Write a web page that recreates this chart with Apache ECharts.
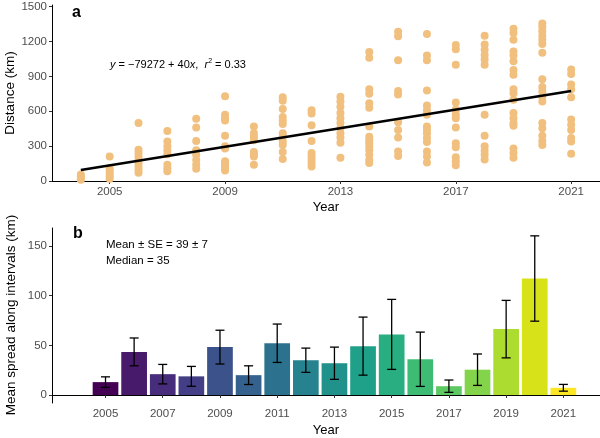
<!DOCTYPE html>
<html>
<head>
<meta charset="utf-8">
<script src="https://cdn.jsdelivr.net/npm/echarts@6/dist/echarts.min.js"></script>
<style>
html,body{margin:0;padding:0;background:#fff;}
#chart{width:600px;height:438px;}
</style>
</head>
<body>
<div id="chart"></div>
<script>
// ---- Panel a: distance by year ----
const scatterYears = [2004,2005,2006,2007,2008,2009,2010,2011,2012,2013,2014,2015,2016,2017,2018,2019,2020,2021];
const distances = [
  [55, 40, 25, 10],
  [210, 110, 85, 60, 40, 20],
  [500, 270, 240, 210, 180, 150, 120, 95, 70],
  [430, 340, 300, 265, 230, 140, 110, 85],
  [535, 460, 345, 265, 225, 180, 140, 105],
  [730, 570, 540, 520, 390, 300, 280, 170, 150, 130, 110, 90],
  [470, 410, 380, 350, 250, 230, 210, 140],
  [720, 690, 620, 550, 520, 490, 410, 380, 340, 310, 250, 190],
  [610, 580, 480, 345, 240, 210, 180, 150, 125],
  [725, 685, 640, 585, 540, 500, 455, 410, 375, 330, 200],
  [1110, 1060, 790, 750, 670, 630, 470, 380, 350, 325, 295, 265, 225, 180, 155],
  [1285, 1245, 1040, 775, 745, 505, 440, 375, 255, 215],
  [1265, 1080, 1040, 780, 650, 610, 570, 470, 440, 410, 370, 335, 255, 210, 160],
  [1170, 1135, 1000, 675, 615, 570, 540, 460, 325, 290, 205, 170, 135],
  [1250, 1175, 1130, 1085, 1045, 1000, 570, 390, 300, 260, 225, 185],
  [1310, 1275, 1215, 1115, 1080, 1030, 955, 915, 790, 755, 700, 585, 540, 500, 475, 280, 240, 200],
  [1355, 1325, 1290, 1250, 1215, 1180, 1105, 875, 810, 770, 725, 685, 500, 455, 390, 345, 310],
  [960, 920, 830, 790, 720, 530, 485, 440, 370, 340, 235]
];
const fitYears = [2004, 2021];
const fitValues = [95, 775];
const topXTicks = [2005, 2009, 2013, 2017, 2021];
const topYTicks = [0, 300, 600, 900, 1200, 1500];

// ---- Panel b: mean spread along intervals ----
const barYears = [2005,2006,2007,2008,2009,2010,2011,2012,2013,2014,2015,2016,2017,2018,2019,2020,2021];
const spreadMean = [13, 43.4, 21, 18.8, 48.2, 20, 52.1, 35, 32, 49.2, 61, 36, 8.9, 25.5, 66.3, 117.2, 7.3];
const spreadSE = [5.3, 14, 9.8, 10, 17, 9.4, 19.3, 12.2, 16.2, 29.2, 35.2, 27.3, 6.2, 15.8, 28.9, 42.9, 3.4];
const barColors = ['#440154','#481A6C','#472D7B','#433E85','#3B528B','#34618D','#2C728E','#26828E','#21918C','#1FA088','#28AE80','#3FBC73','#5EC962','#84D44B','#ADDC30','#D8E219','#FDE725'];
const bottomXTicks = [2005, 2007, 2009, 2011, 2013, 2015, 2017, 2019, 2021];
const bottomYTicks = [0, 50, 100, 150];

const FONT = 'Liberation Sans, Arial, sans-serif';
const labelColor = '#4D4D4D';

const scatterData = [];
scatterYears.forEach((y, i) => distances[i].forEach(d => scatterData.push([y, d])));
const fitData = fitYears.map((y, i) => [y, fitValues[i]]);

const barData = barYears.map((y, i) => ({ value: [y, spreadMean[i]], itemStyle: { color: barColors[i] } }));
const errData = barYears.map((y, i) => [y, spreadMean[i] - spreadSE[i], spreadMean[i] + spreadSE[i]]);

function axisCommon(ticks) {
  return {
    axisLine: { show: true, lineStyle: { color: '#000', width: 1 } },
    axisTick: { show: true, length: 3, lineStyle: { color: '#333', width: 1 }, customValues: ticks },
    axisLabel: { color: labelColor, fontSize: 11.5, fontFamily: FONT, customValues: ticks, margin: 5,
      formatter: function (v) { return String(v); } },
    splitLine: { show: false }
  };
}

const chart = echarts.init(document.getElementById('chart'), null, { renderer: 'canvas' });
chart.setOption({
  animation: false,
  backgroundColor: '#fff',
  grid: [
    { left: 52, right: 0, top: 5, height: 176, containLabel: false, outerBoundsMode: 'none' },
    { left: 52, right: 0, top: 228, height: 175, containLabel: false, outerBoundsMode: 'none' }
  ],
  xAxis: [
    Object.assign({ type: 'value', gridIndex: 0, min: 2003, max: 2022,
      name: 'Year', nameLocation: 'middle', nameGap: 20,
      nameTextStyle: { color: '#000', fontSize: 13, fontFamily: FONT } }, axisCommon(topXTicks)),
    Object.assign({ type: 'value', gridIndex: 1, min: 2003.13, max: 2022.28,
      name: 'Year', nameLocation: 'middle', nameGap: 21,
      nameTextStyle: { color: '#000', fontSize: 13, fontFamily: FONT } }, axisCommon(bottomXTicks))
  ],
  yAxis: [
    Object.assign({ type: 'value', gridIndex: 0, min: 0, max: 1515 }, axisCommon(topYTicks)),
    Object.assign({ type: 'value', gridIndex: 1, min: -8, max: 168 }, axisCommon(bottomYTicks))
  ],
  series: [
    {
      type: 'scatter', xAxisIndex: 0, yAxisIndex: 0, data: scatterData,
      symbolSize: 8, itemStyle: { color: '#F1C07F', opacity: 1 }, z: 2
    },
    {
      type: 'line', xAxisIndex: 0, yAxisIndex: 0, data: fitData,
      showSymbol: false, symbol: 'none', lineStyle: { color: '#000', width: 2.5 }, z: 3
    },
    {
      type: 'bar', xAxisIndex: 1, yAxisIndex: 1, data: barData, barWidth: 25.7, z: 2
    },
    {
      type: 'custom', xAxisIndex: 1, yAxisIndex: 1, data: errData, z: 3,
      renderItem: function (params, api) {
        const x = api.value(0);
        const lo = api.coord([x, api.value(1)]);
        const hi = api.coord([x, api.value(2)]);
        const cap = 4.5;
        const style = { stroke: '#000', lineWidth: 1.3 };
        return {
          type: 'group',
          children: [
            { type: 'line', shape: { x1: lo[0], y1: lo[1], x2: hi[0], y2: hi[1] }, style: style },
            { type: 'line', shape: { x1: hi[0] - cap, y1: hi[1], x2: hi[0] + cap, y2: hi[1] }, style: style },
            { type: 'line', shape: { x1: lo[0] - cap, y1: lo[1], x2: lo[0] + cap, y2: lo[1] }, style: style }
          ]
        };
      }
    }
  ],
  graphic: [
    { type: 'text', x: 10, y: 93, rotation: Math.PI / 2,
      style: { text: 'Distance (km)', font: '13.5px ' + FONT, fill: '#000', align: 'center', verticalAlign: 'middle' } },
    { type: 'text', x: 11, y: 315, rotation: Math.PI / 2,
      style: { text: 'Mean spread along intervals (km)', font: '13.5px ' + FONT, fill: '#000', align: 'center', verticalAlign: 'middle' } },
    { type: 'text', left: 72, top: 5, style: { text: 'a', font: 'bold 16px ' + FONT, fill: '#000' } },
    { type: 'text', left: 73, top: 226, style: { text: 'b', font: 'bold 16px ' + FONT, fill: '#000' } },
    { type: 'text', left: 110, top: 58, style: {
        text: '{i|y} = \u221279272 + 40{i|x},  {i|r}{s|2} = 0.33',
        font: '11px ' + FONT, fill: '#000',
        rich: {
          i: { fontStyle: 'italic', fontSize: 11, fontFamily: FONT, fill: '#000' },
          s: { fontSize: 7, fontFamily: FONT, verticalAlign: 'top', padding: [0, 0, 6, 0], fill: '#000' }
        }
    } },
    { type: 'text', left: 106, top: 239, style: { text: 'Mean \u00b1 SE = 39 \u00b1 7', font: '11.5px ' + FONT, fill: '#000' } },
    { type: 'text', left: 106, top: 255, style: { text: 'Median = 35', font: '11.5px ' + FONT, fill: '#000' } }
  ]
});
</script>
</body>
</html>
